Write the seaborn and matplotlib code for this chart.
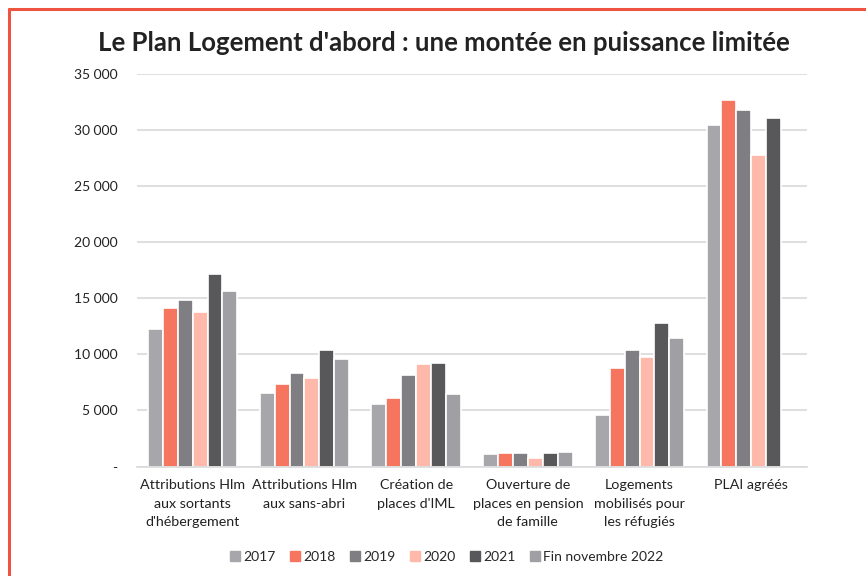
import numpy as np
import pandas as pd
import matplotlib.pyplot as plt
import seaborn as sns
from matplotlib.ticker import FuncFormatter
from matplotlib.lines import Line2D

# categories and series
categories = [
    "Attributions Hlm\naux sortants\nd'hébergement",
    "Attributions Hlm\naux sans-abri",
    "Création de\nplaces d'IML",
    "Ouverture de\nplaces en pension\nde famille",
    "Logements\nmobilisés pour\nles réfugiés",
    "PLAI agréés",
]
years = ["2017", "2018", "2019", "2020", "2021", "Fin novembre 2022"]

v2017 = [12300, 6550, 5600, 1150, 4550, 30450]
v2018 = [14100, 7400, 6100, 1250, 8750, 32700]
v2019 = [14800, 8350, 8200, 1250, 10350, 31750]
v2020 = [13750, 7900, 9100, 750, 9800, 27750]
v2021 = [17150, 10350, 9250, 1250, 12800, 31050]
v2022 = [15600, 9550, 6450, 1300, 11450, np.nan]

colors = ["#A7A7AB", "#F5755F", "#7F7F83", "#FFB9AA", "#58585A", "#A0A0A4"]

rows = []
for year, vals in zip(years, [v2017, v2018, v2019, v2020, v2021, v2022]):
    for cat, v in zip(categories, vals):
        rows.append({"cat": cat, "year": year, "value": v})
df = pd.DataFrame(rows)

sns.set_style("white")
plt.rcParams['font.family'] = ['Lato', 'DejaVu Sans']

fig = plt.figure(figsize=(8.66, 5.76), dpi=100)
ax = fig.add_axes([0.158, 0.19, 0.774, 0.682])

sns.barplot(data=df, x="cat", y="value", hue="year", palette=colors, saturation=1,
            width=0.8, edgecolor="white", linewidth=1.2, ax=ax, legend=False)

ax.set_ylim(0, 35000)
ax.set_yticks(range(0, 35001, 5000))
ax.yaxis.set_major_formatter(FuncFormatter(
    lambda v, p: "-" if v == 0 else f"{int(v):,}".replace(",", " ")))
ax.grid(axis="y", color="#D9D9D9", linewidth=1.2)
ax.set_axisbelow(True)
for s in ["top", "right", "left"]:
    ax.spines[s].set_visible(False)
ax.spines["bottom"].set_color("#D9D9D9")
ax.spines["bottom"].set_linewidth(1.2)
ax.tick_params(axis="both", length=0, labelsize=10, colors="#222222")
ax.tick_params(axis="x", labelsize=10.3, pad=9)
ax.tick_params(axis="y", pad=14)
ax.set_xlabel("")
ax.set_ylabel("")
ax.set_xlim(-0.5, 5.5)
for lab in ax.get_xticklabels():
    lab.set_linespacing(1.65)

fig.text(0.512, 0.925, "Le Plan Logement d'abord : une montée en puissance limitée",
         ha="center", va="center", fontsize=18.5, fontweight="bold", color="#222222")

handles = [Line2D([0], [0], marker="s", linestyle="", markersize=7,
                  markerfacecolor=c, markeredgecolor=c) for c in colors]
fig.legend(handles, years, loc="center", bbox_to_anchor=(0.516, 0.033), ncol=6,
           frameon=False, fontsize=10, handlelength=0.7, handletextpad=0.2,
           columnspacing=1.1)

# red frame (top and left edges)
fig.add_artist(Line2D([0.0104, 1.0], [0.984, 0.984], color="#EE5440", linewidth=2.2,
                      transform=fig.transFigure))
fig.add_artist(Line2D([0.0104, 0.0104], [0.0, 0.984], color="#EE5440", linewidth=2.2,
                      transform=fig.transFigure))

fig.savefig("out.png", dpi=100)
